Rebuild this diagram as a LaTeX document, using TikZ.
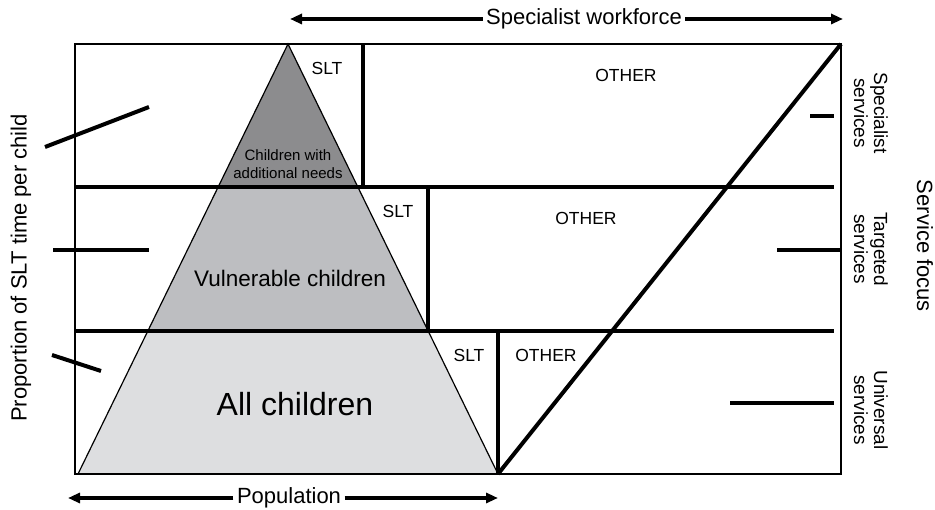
\documentclass[tikz,border=0pt]{standalone}
\usepackage{fontspec}
\setmainfont{Liberation Sans}
\usetikzlibrary{arrows.meta}
\definecolor{needsgray}{HTML}{8C8C8E}
\definecolor{vulngray}{HTML}{BDBEC1}
\definecolor{allgray}{HTML}{DDDEE0}
\tikzset{
  boxframe/.style={line width=1.8pt},
  divider/.style={line width=4pt},
  slope/.style={line width=4pt},
  axisarrow/.style={line width=3.5pt,-{Triangle[length=12pt,width=10pt]}},
  boxlabel/.style={font=\fontsize{17.5}{20}\selectfont},
  axislabel/.style={font=\fontsize{22}{26}\selectfont},
  sidelabel/.style={font=\fontsize{19}{20}\selectfont,align=center,rotate=-90},
}
\begin{document}
\begin{tikzpicture}[x=1pt,y=-1pt]
\useasboundingbox (0,0) rectangle (935,510);
\coordinate (apex) at (288,44);
\coordinate (bl) at (78,474);
\coordinate (br) at (498,474);
\coordinate (nl) at (218,187);
\coordinate (nr) at (358,187);
\coordinate (vl) at (148,331);
\coordinate (vr) at (428,331);
\fill[needsgray] (apex)--(nr)--(nl)--cycle;
\fill[vulngray] (nl)--(nr)--(vr)--(vl)--cycle;
\fill[allgray] (vl)--(vr)--(br)--(bl)--cycle;
\draw[line width=1.2pt] (bl)--(apex)--(br);
\draw[boxframe] (75,44) rectangle (841,474);
\draw[divider] (75,187)--(834,187);
\draw[divider] (75,331)--(834,331);
\draw[divider] (363,44)--(363,187);
\draw[divider] (428,187)--(428,331);
\draw[divider] (498,331)--(br);
\draw[divider] (br)--(841,44);
\node[boxlabel] (slta) at (327,68) {SLT};
\node[boxlabel] (othera) at (626,75) {OTHER};
\node[boxlabel] (sltb) at (398,211) {SLT};
\node[boxlabel] (otherb) at (586,218) {OTHER};
\node[boxlabel] (sltc) at (469,355) {SLT};
\node[boxlabel] (otherc) at (546,355) {OTHER};
\node[font=\fontsize{15}{18}\selectfont,align=center] (needs) at (288,164) {Children with\\additional needs};
\node[font=\fontsize{22.5}{26}\selectfont] (vuln) at (290,278) {Vulnerable children};
\node[font=\fontsize{32}{36}\selectfont] (all) at (295,404) {All children};
\node[axislabel] (work) at (584,19) {Specialist workforce};
\coordinate (workl) at (290,19);
\coordinate (workr) at (843,19);
\draw[axisarrow] (work.west)--(workl);
\draw[axisarrow] (work.east)--(workr);
\node[axislabel] (pop) at (289,498) {Population};
\coordinate (popl) at (68,498);
\coordinate (popr) at (498,498);
\draw[axisarrow] (pop.west)--(popl);
\draw[axisarrow] (pop.east)--(popr);
\node[axislabel,rotate=90] (prop) at (21,268) {Proportion of SLT time per child};
\node[sidelabel] (spec) at (871,113) {Specialist\\services};
\node[sidelabel] (targ) at (871,249) {Targeted\\services};
\node[sidelabel] (univ) at (871,410) {Universal\\services};
\node[axislabel,rotate=-90] (focus) at (925,246) {Service focus};
\draw[slope] (45,147)--(149,107);
\draw[slope] (53,250)--(149,250);
\draw[slope] (52,355)--(101,371);
\draw[slope] (810,116)--(834,116);
\draw[slope] (777,250)--(841,250);
\draw[slope] (730,403)--(834,403);
\end{tikzpicture}
\end{document}
